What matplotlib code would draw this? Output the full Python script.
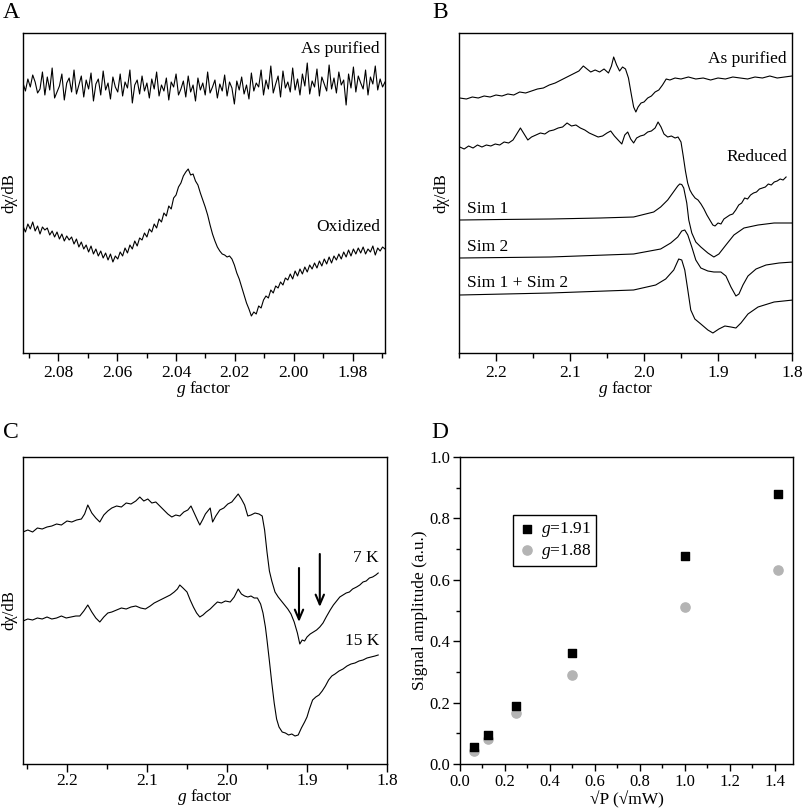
import numpy as np
import matplotlib
matplotlib.use("Agg")
import matplotlib.pyplot as plt
from matplotlib.ticker import MultipleLocator, FormatStrFormatter

plt.rcParams['font.family'] = ['Liberation Serif', 'DejaVu Serif']
plt.rcParams['mathtext.fontset'] = 'custom'
plt.rcParams['mathtext.rm'] = 'Liberation Serif'
plt.rcParams['mathtext.it'] = 'Liberation Serif:italic'

# ---------------- Panel A data ----------------
a_g_start, a_g_end = 2.092, 1.969
a_as_purified = [
    270, 262, 274, 266, 278, 271, 260, 264, 281, 258,
    276, 263, 285, 255, 261, 267, 279, 253, 270, 275,
    261, 283, 259, 268, 277, 256, 273, 264, 280, 252,
    269, 274, 258, 282, 263, 270, 254, 276, 266, 261,
    279, 257, 271, 265, 283, 250, 268, 273, 259, 277,
    262, 270, 255, 274, 264, 281, 257, 268, 262, 275,
    253, 271, 266, 279, 258, 264, 272, 256, 277, 261,
    268, 252, 275, 263, 270, 258, 281, 260, 266, 273,
    255, 269, 262, 278, 257, 271, 265, 249, 272, 263,
    276, 259, 268, 254, 280, 262, 270, 266, 283, 258,
    273, 264, 287, 260, 269, 277, 256, 282, 265, 271,
    261, 285, 263, 274, 258, 279, 267, 290, 259, 272,
    266, 284, 257, 276, 269, 262, 288, 264, 275, 260,
    281, 268, 273, 248, 279, 265, 286, 261, 277, 270,
    264, 283, 258, 276, 269, 287, 263, 274, 266, 271]
a_oxidized = [
    127, 121, 129, 124, 131, 122, 127, 119, 126, 123,
    125, 118, 122, 116, 121, 114, 119, 112, 117, 113,
    116, 109, 114, 106, 111, 104, 108, 101, 107, 99,
    104, 97, 102, 95, 100, 93, 99, 91, 97, 94,
    101, 97, 105, 100, 108, 104, 112, 107, 115, 113,
    120, 116, 124, 121, 129, 125, 134, 131, 140, 137,
    147, 144, 155, 158, 166, 170, 177, 181, 184, 178,
    179, 172, 168, 160, 153, 146, 138, 128, 119, 112,
    106, 102, 99, 98, 96, 97, 94, 88, 80, 74,
    66, 58, 50, 44, 37, 41, 39, 47, 45, 53,
    57, 55, 63, 60, 67, 65, 71, 68, 75, 73,
    79, 74, 82, 77, 84, 79, 86, 81, 88, 84,
    90, 85, 92, 87, 94, 89, 96, 90, 97, 93,
    99, 94, 101, 96, 103, 97, 104, 99, 105, 100,
    106, 99, 104, 101, 107, 98, 105, 102, 106, 104]

# ---------------- Panel B data ----------------
b_pur_g = [2.249, 2.240, 2.232, 2.224, 2.216, 2.208, 2.200, 2.192, 2.184, 2.176,
           2.168, 2.160, 2.152, 2.144, 2.136, 2.128, 2.120, 2.112, 2.104, 2.096,
           2.088, 2.082, 2.077, 2.072, 2.066, 2.060, 2.054, 2.048, 2.044, 2.041,
           2.037, 2.033, 2.029, 2.025, 2.021, 2.017, 2.014, 2.011, 2.008, 2.004,
           2.000, 1.995, 1.990, 1.985, 1.980, 1.975, 1.970, 1.965, 1.958, 1.950,
           1.940, 1.930, 1.920, 1.910, 1.900, 1.890, 1.880, 1.870, 1.860, 1.850,
           1.840, 1.830, 1.820, 1.810, 1.800]
b_pur_v = [255, 254, 256, 255, 257, 256, 258, 257, 259, 258,
           261, 260, 262, 264, 265, 268, 270, 273, 276, 279,
           282, 287, 284, 281, 283, 281, 284, 280, 287, 296,
           288, 282, 286, 284, 275, 258, 246, 241, 246, 250,
           251, 255, 257, 261, 263, 268, 274, 273, 275, 274,
           276, 274, 275, 273, 275, 274, 276, 275, 274, 276,
           275, 277, 275, 276, 277]
b_red_g = [2.249, 2.243, 2.237, 2.231, 2.225, 2.219, 2.213, 2.207, 2.201, 2.195,
           2.189, 2.183, 2.177, 2.172, 2.167, 2.162, 2.157, 2.152, 2.146, 2.140,
           2.134, 2.128, 2.122, 2.116, 2.110, 2.104, 2.098, 2.092, 2.086, 2.080,
           2.074, 2.068, 2.062, 2.056, 2.050, 2.045, 2.040, 2.035, 2.030, 2.026,
           2.022, 2.018, 2.014, 2.010, 2.005, 2.000, 1.995, 1.990, 1.985, 1.981,
           1.977, 1.973, 1.968, 1.963, 1.958, 1.954, 1.950, 1.947, 1.944, 1.941,
           1.938, 1.935, 1.931, 1.927, 1.923, 1.919, 1.915, 1.911, 1.907, 1.904,
           1.900, 1.896, 1.892, 1.888, 1.884, 1.880, 1.876, 1.872, 1.868, 1.864,
           1.860, 1.856, 1.852, 1.848, 1.844, 1.840, 1.836, 1.832, 1.828, 1.824,
           1.820, 1.816, 1.812, 1.808]
b_red_v = [206, 204, 207, 205, 208, 206, 208, 207, 209, 208,
           211, 210, 213, 219, 225, 219, 213, 216, 218, 220,
           219, 222, 223, 225, 226, 230, 227, 228, 225, 223,
           220, 218, 216, 217, 220, 222, 217, 213, 209, 218,
           221, 214, 210, 215, 217, 218, 221, 222, 225, 231,
           226, 219, 216, 217, 215, 216, 211, 197, 182, 170,
           163, 159, 155, 153, 149, 144, 138, 133, 128, 127,
           130, 129, 134, 136, 138, 139, 143, 148, 150, 155,
           154, 158, 160, 161, 164, 165, 166, 169, 168, 171,
           172, 174, 173, 176]
b_sim1_g = [2.2486, 2.1944, 2.1266, 2.0588, 2.0141, 1.9869, 1.9775, 1.9680, 1.9612,
            1.9544, 1.9517, 1.9490, 1.9463, 1.9422, 1.9395, 1.9354, 1.9300, 1.9232,
            1.9137, 1.9056, 1.8988, 1.8893, 1.8785, 1.8649, 1.8459, 1.8242, 1.7985]
b_sim1_v = [133, 133.5, 134, 135, 136, 141, 146, 153, 160,
            167, 169, 168.5, 165, 150, 133, 120, 111, 106,
            100, 96, 99, 108, 118, 125, 128, 130, 130]
b_sim2_g = [2.2486, 2.1266, 2.0141, 1.9775, 1.9639, 1.9544, 1.9490, 1.9449, 1.9408,
            1.9354, 1.9300, 1.9232, 1.9137, 1.9056, 1.8961, 1.8893, 1.8825, 1.8758,
            1.8717, 1.8663, 1.8595, 1.8486, 1.8351, 1.8175, 1.7985]
b_sim2_v = [95, 96, 99, 104, 110, 116, 122, 123, 118,
            106, 93, 85, 82, 81, 81, 77, 66, 57,
            59, 68, 77, 84, 88, 90, 91]
b_sum_g = [2.2486, 2.1266, 2.0141, 1.9842, 1.9707, 1.9598, 1.9531, 1.9490, 1.9449,
           1.9408, 1.9368, 1.9313, 1.9232, 1.9137, 1.9069, 1.8988, 1.8907, 1.8825,
           1.8758, 1.8690, 1.8595, 1.8459, 1.8242, 1.7985]
b_sum_v = [58, 60, 63, 68, 74, 83, 94, 93, 83,
           63, 43, 34, 29, 23, 20, 24, 27, 26,
           25, 30, 39, 46, 51, 53]

# ---------------- Panel C data ----------------
c_7k_g = [2.255, 2.249, 2.243, 2.237, 2.231, 2.225, 2.219, 2.213, 2.207, 2.200,
          2.194, 2.188, 2.182, 2.178, 2.174, 2.169, 2.164, 2.159, 2.154, 2.149,
          2.144, 2.138, 2.132, 2.126, 2.120, 2.114, 2.109, 2.104, 2.099, 2.094,
          2.089, 2.084, 2.079, 2.074, 2.069, 2.064, 2.059, 2.054, 2.049, 2.045,
          2.041, 2.037, 2.034, 2.030, 2.027, 2.024, 2.021, 2.018, 2.014, 2.009,
          2.004, 1.999, 1.994, 1.990, 1.986, 1.982, 1.978, 1.974, 1.970, 1.965,
          1.960, 1.956, 1.953, 1.950, 1.947, 1.944, 1.940, 1.936, 1.932, 1.928,
          1.924, 1.920, 1.916, 1.912, 1.909, 1.906, 1.903, 1.900, 1.896, 1.892,
          1.888, 1.884, 1.880, 1.876, 1.871, 1.867, 1.863, 1.859, 1.855, 1.851,
          1.847, 1.843, 1.838, 1.834, 1.830, 1.826, 1.822, 1.818, 1.814, 1.811]
c_7k_v = [232, 234, 232, 236, 235, 237, 238, 240, 239, 243,
          242, 244, 245, 250, 259, 251, 246, 242, 249, 253,
          256, 258, 257, 261, 260, 263, 267, 263, 265, 261,
          262, 258, 254, 250, 247, 249, 248, 252, 254, 258,
          251, 244, 239, 245, 250, 253, 256, 242, 248, 254,
          256, 260, 262, 266, 270, 265, 259, 248, 249, 251,
          250, 248, 234, 212, 193, 183, 172, 167, 163, 159,
          155, 150, 142, 131, 120, 124, 123, 127, 130, 132,
          134, 137, 141, 147, 154, 159, 163, 167, 169, 171,
          172, 175, 177, 179, 182, 183, 186, 187, 189, 191]
c_15k_g = [2.255, 2.249, 2.243, 2.237, 2.231, 2.225, 2.219, 2.213, 2.207, 2.201,
           2.195, 2.189, 2.184, 2.179, 2.174, 2.169, 2.164, 2.159, 2.154, 2.149,
           2.144, 2.138, 2.132, 2.126, 2.120, 2.114, 2.108, 2.102, 2.096, 2.091,
           2.086, 2.081, 2.076, 2.071, 2.066, 2.062, 2.059, 2.055, 2.050, 2.046,
           2.042, 2.038, 2.034, 2.030, 2.026, 2.021, 2.016, 2.012, 2.007, 2.002,
           1.996, 1.991, 1.986, 1.982, 1.978, 1.974, 1.970, 1.966, 1.962, 1.958,
           1.955, 1.952, 1.950, 1.947, 1.944, 1.941, 1.938, 1.935, 1.931, 1.927,
           1.923, 1.919, 1.915, 1.911, 1.907, 1.903, 1.900, 1.897, 1.893, 1.889,
           1.885, 1.881, 1.877, 1.873, 1.869, 1.865, 1.860, 1.855, 1.850, 1.845,
           1.840, 1.835, 1.830, 1.825, 1.820, 1.815, 1.811]
c_15k_v = [143, 145, 144, 146, 145, 147, 145, 146, 148, 146,
           147, 148, 148, 153, 159, 152, 146, 142, 147, 151,
           152, 154, 156, 155, 157, 158, 156, 155, 158, 161,
           163, 165, 167, 169, 172, 175, 179, 176, 172, 164,
           157, 151, 147, 149, 152, 155, 159, 162, 161, 163,
           162, 167, 175, 170, 168, 167, 168, 166, 166, 160,
           151, 137, 124, 103, 81, 61, 45, 37, 32, 31,
           29, 30, 28, 29, 36, 42, 47, 55, 64, 67,
           69, 73, 78, 84, 88, 90, 93, 95, 98, 100,
           101, 103, 104, 106, 107, 108, 109]
c_arrow_g = [1.910, 1.884]

# ---------------- Panel D data ----------------
d_sqrtP = [0.0625, 0.125, 0.25, 0.5, 1.0, 1.414]
d_g191 = [0.055, 0.095, 0.188, 0.362, 0.676, 0.878]
d_g188 = [0.042, 0.082, 0.165, 0.290, 0.510, 0.632]

W, H = 803, 808
fig = plt.figure(figsize=(W / 100, H / 100), dpi=100)


def ax_px(l, t, r, b):
    return fig.add_axes([l / W, 1 - b / H, (r - l) / W, (b - t) / H])


FS = 12.5
LW = 0.8


def style_spec(ax, pad):
    ax.set_yticks([])
    ax.tick_params(axis='x', which='major', direction='out', length=6, width=1,
                   labelsize=FS, pad=pad)
    ax.tick_params(axis='x', which='minor', direction='out', length=3.5, width=1)
    for s in ax.spines.values():
        s.set_linewidth(1)
    ax.set_xlabel(r'$g$ factor', fontsize=FS)
    ax.set_ylabel('dχ/dB', fontsize=12)


# Panel A
axA = ax_px(23, 33, 385, 353)
gA = np.linspace(a_g_start, a_g_end, len(a_as_purified))
axA.plot(gA, a_as_purified, color='black', lw=LW)
axA.plot(gA, a_oxidized, color='black', lw=LW)
axA.set_xlim(2.092, 1.969)
axA.set_ylim(0, 320)
axA.xaxis.set_major_locator(MultipleLocator(0.02))
axA.xaxis.set_minor_locator(MultipleLocator(0.01))
axA.xaxis.set_major_formatter(FormatStrFormatter('%.2f'))
style_spec(axA, 2.5)
axA.xaxis.set_label_coords(0.5, -0.082)
axA.yaxis.set_label_coords(-0.016, 0.5)
axA.text(1.9707, 304, 'As purified', ha='right', va='center', fontsize=FS)
axA.text(1.9707, 126, 'Oxidized', ha='right', va='center', fontsize=FS)

# Panel B
axB = ax_px(459, 33, 792, 353)
axB.plot(b_pur_g, b_pur_v, color='black', lw=LW)
axB.plot(b_red_g, b_red_v, color='black', lw=LW)
axB.plot(b_sim1_g, b_sim1_v, color='black', lw=LW)
axB.plot(b_sim2_g, b_sim2_v, color='black', lw=LW)
axB.plot(b_sum_g, b_sum_v, color='black', lw=LW)
axB.set_xlim(2.25, 1.8)
axB.set_ylim(0, 320)
axB.xaxis.set_major_locator(MultipleLocator(0.1))
axB.xaxis.set_minor_locator(MultipleLocator(0.05))
axB.xaxis.set_major_formatter(FormatStrFormatter('%.1f'))
style_spec(axB, 2.5)
axB.xaxis.set_label_coords(0.5, -0.082)
axB.yaxis.set_label_coords(-0.028, 0.5)
axB.text(1.8066, 294, 'As purified', ha='right', va='center', fontsize=FS)
axB.text(1.8066, 196, 'Reduced', ha='right', va='center', fontsize=FS)
axB.text(2.2392, 144, 'Sim 1', ha='left', va='center', fontsize=FS)
axB.text(2.2392, 106, 'Sim 2', ha='left', va='center', fontsize=FS)
axB.text(2.2392, 70, 'Sim 1 + Sim 2', ha='left', va='center', fontsize=FS)

# Panel C
axC = ax_px(23, 457, 387, 764)
axC.plot(c_7k_g, c_7k_v, color='black', lw=LW)
axC.plot(c_15k_g, c_15k_v, color='black', lw=LW)
axC.set_xlim(2.255, 1.8)
axC.set_ylim(0, 307)
axC.xaxis.set_major_locator(MultipleLocator(0.1))
axC.xaxis.set_minor_locator(MultipleLocator(0.05))
axC.xaxis.set_major_formatter(FormatStrFormatter('%.1f'))
style_spec(axC, 0.5)
axC.xaxis.set_label_coords(0.5, -0.075)
axC.yaxis.set_label_coords(-0.016, 0.5)
axC.text(1.81, 206, '7 K', ha='right', va='center', fontsize=FS)
axC.text(1.81, 123, '15 K', ha='right', va='center', fontsize=FS)
for g, (y0, y1) in zip(c_arrow_g, [(196, 142), (210, 157)]):
    axC.annotate('', xy=(g, y1), xytext=(g, y0),
                 arrowprops=dict(arrowstyle='->,head_length=0.7,head_width=0.3',
                                 lw=1.5, color='black', shrinkA=0, shrinkB=0))

# Panel D
axD = ax_px(460, 457, 793, 764)
axD.scatter(d_sqrtP, d_g191, marker='s', s=34, color='black', zorder=3,
            label=r'$g$=1.91')
axD.scatter(d_sqrtP, d_g188, marker='o', s=44, color='#b4b4b4', zorder=2,
            label=r'$g$=1.88')
axD.set_xlim(0, 1.48)
axD.set_ylim(0, 1.0)
axD.xaxis.set_major_locator(MultipleLocator(0.2))
axD.xaxis.set_minor_locator(MultipleLocator(0.1))
axD.yaxis.set_major_locator(MultipleLocator(0.2))
axD.yaxis.set_minor_locator(MultipleLocator(0.1))
axD.xaxis.set_major_formatter(FormatStrFormatter('%.1f'))
axD.yaxis.set_major_formatter(FormatStrFormatter('%.1f'))
axD.tick_params(which='major', direction='out', length=5, width=1,
                labelsize=12, pad=2)
axD.tick_params(which='minor', direction='out', length=3, width=1)
for s in axD.spines.values():
    s.set_linewidth(1)
axD.set_xlabel('√P (√mW)', fontsize=12.5)
axD.set_ylabel('Signal amplitude (a.u.)', fontsize=12.5)
axD.xaxis.set_label_coords(0.5, -0.088)
axD.yaxis.set_label_coords(-0.096, 0.5)
leg = axD.legend(loc='upper left', bbox_to_anchor=(0.159, 0.811),
                 borderaxespad=0, fancybox=False, framealpha=1,
                 edgecolor='black', fontsize=12.5, handletextpad=0.3,
                 handlelength=1.0, borderpad=0.3, labelspacing=0.15)
leg.get_frame().set_linewidth(1)

# Panel letters
for lab, (px, py) in {'A': (3, 12), 'B': (432, 12), 'C': (3, 433), 'D': (431, 432)}.items():
    fig.text(px / W, 1 - py / H, lab, fontsize=17, ha='left', va='center')

fig.savefig('out.png', dpi=100)
